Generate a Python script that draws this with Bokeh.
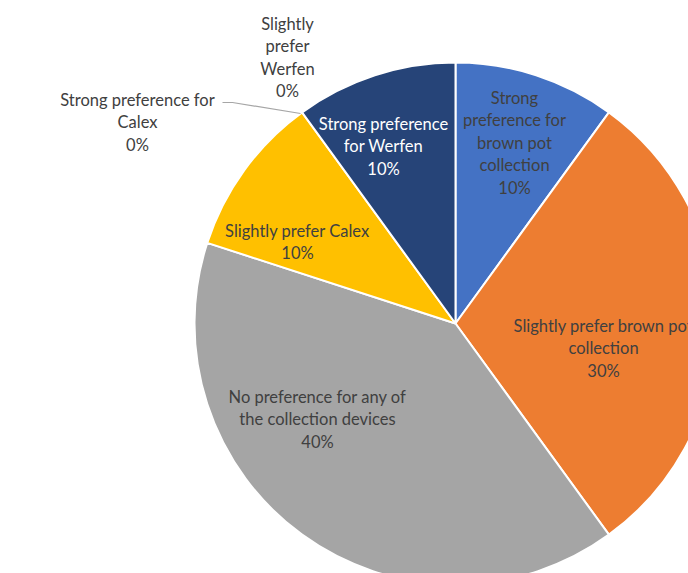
import math
from bokeh.plotting import figure
from bokeh.models import Range1d, ColumnDataSource
from bokeh.core.properties import value
from bokeh.embed import file_html
from bokeh.resources import INLINE

# ---- data ----
categories = [
    "Strong preference for brown pot collection",
    "Slightly prefer brown pot collection",
    "No preference for any of the collection devices",
    "Slightly prefer Calex",
    "Strong preference for Calex",
    "Slightly prefer Werfen",
    "Strong preference for Werfen",
]
percents = [10, 30, 40, 10, 0, 0, 10]
colors = ["#4472C4", "#ED7D31", "#A5A5A5", "#FFC000", "#5B9BD5", "#70AD47", "#264478"]

# label text lines (as wrapped in the chart)
label_lines = [
    ["Strong", "preference for", "brown pot", "collection", "10%"],
    ["Slightly prefer brown pot", "collection", "30%"],
    ["No preference for any of", "the collection devices", "40%"],
    ["Slightly prefer Calex", "10%"],
    ["Strong preference for", "Calex", "0%"],
    ["Slightly", "prefer", "Werfen", "0%"],
    ["Strong preference", "for Werfen", "10%"],
]

# ---- layout (screen pixel based) ----
W, H = 688, 573
def sx(x):
    return x
def sy(y):
    return H - y

cx, cy, R = 455, 323, 261
label_pos = [(514, 97), (603, 325), (317, 396), (297, 230), (137, 99), (287, 23), (383, 123)]
label_color = ["#404040", "#404040", "#404040", "#404040", "#404040", "#404040", "#FFFFFF"]
line_h = 22.5

p = figure(width=W, height=H, output_backend="svg", toolbar_location=None,
           x_range=Range1d(0, W), y_range=Range1d(0, H), min_border=0)
p.axis.visible = False
p.grid.visible = False
p.outline_line_color = None
p.background_fill_color = "white"

total = sum(percents)
starts, ends, cols, cats = [], [], [], []
cum = 0
for v, c, n in zip(percents, colors, categories):
    a0 = math.pi / 2 - 2 * math.pi * cum / total
    cum += v
    a1 = math.pi / 2 - 2 * math.pi * cum / total
    if v > 0:
        starts.append(a0)
        ends.append(a1)
        cols.append(c)
        cats.append(n)

src = ColumnDataSource(dict(start=starts, end=ends, color=cols, cat=cats))
p.wedge(x=sx(cx), y=sy(cy), radius=R, start_angle="start", end_angle="end",
        direction="clock", fill_color="color", line_color="white", line_width=2,
        source=src)

# leader line for "Strong preference for Calex"
p.line([sx(222), sx(232), sx(300)], [sy(102), sy(102), sy(113)],
       line_color="#A6A6A6", line_width=1.2)

xs, ys, ts, cs = [], [], [], []
for lines, (lx, ly), col in zip(label_lines, label_pos, label_color):
    for i, t in enumerate(lines):
        xs.append(sx(lx))
        ys.append(sy(ly + i * line_h))
        ts.append(t)
        cs.append(col)
p.text(x=xs, y=ys, text=ts, text_color=cs, text_align="center",
       text_baseline="middle", text_font=value("Lato"), text_font_size="16.5px")

open("out.html", "w").write(file_html(p, INLINE))
